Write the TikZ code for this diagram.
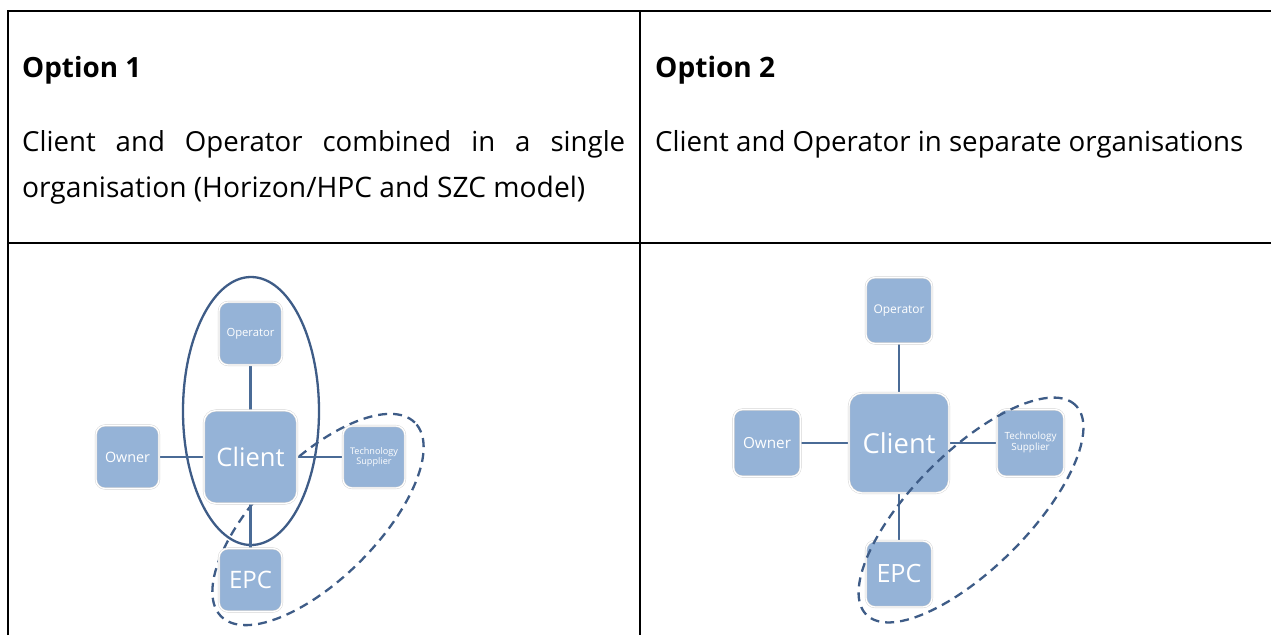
\documentclass[tikz,border=0pt]{standalone}
\usepackage{fontspec}
\usepackage{graphicx}
\setmainfont{Open Sans}
\usetikzlibrary{shapes.geometric,backgrounds}
\pgfdeclarelayer{bottom}
\pgfsetlayers{bottom,background,main}
\definecolor{boxfill}{HTML}{95B3D7}
\definecolor{linec}{HTML}{4A6B96}
\definecolor{ellc}{HTML}{3E5C87}
\newcommand{\fitw}[2]{\resizebox{#1}{!}{#2}}
\newcommand{\twoline}[3]{\resizebox{#1}{!}{\begin{tabular}{@{}c@{}}#2\\[-1pt]#3\end{tabular}}}
\tikzset{
  orgbox/.style={draw=black!18, double=white, double distance=1.3pt, line width=0.4pt,
    fill=boxfill, rounded corners=9pt, minimum width=#1, minimum height=#1,
    inner sep=0pt, text=white, align=center},
  conn/.style={draw=linec, line width=2.4pt},
  solidell/.style={draw=ellc, line width=2.3pt, ellipse, inner sep=0pt},
  dashell/.style={draw=ellc, line width=2.3pt, ellipse, inner sep=0pt, dash pattern=on 9pt off 6pt},
  tline/.style={draw=black, line width=2.8pt},
  hdr/.style={anchor=base west, inner sep=0pt, text=black}
}
\begin{document}
\begin{tikzpicture}[x=1pt,y=-1pt]
\useasboundingbox (0,0) rectangle (1271,635);
\begin{pgfonlayer}{bottom}
\fill[white] (0,0) rectangle (1271,635);
\end{pgfonlayer}
% table rules
\draw[tline] (8,635) -- (8,11) -- (1271,11);
\draw[tline] (640,11) -- (640,635);
\draw[tline] (8,243) -- (1271,243);
% headers
\node[hdr] (o1) at (22,77) {\fitw{119pt}{\bfseries Option 1}};
\node[hdr] (o1a) at (22,151) {{\fontsize{27.6pt}{30pt}\selectfont\makebox[603pt][s]{Client and Operator combined in a single}}};
\node[hdr] (o1b) at (22,197) {\fitw{563pt}{organisation (Horizon/HPC and SZC model)}};
\node[hdr] (o2) at (655,77) {\fitw{120pt}{\bfseries Option 2}};
\node[hdr] (o2a) at (655,151) {\fitw{588pt}{Client and Operator in separate organisations}};
% ---------- Option 1 ----------
\node[orgbox=63pt] (op1) at (250.5,333.5) {\fitw{48pt}{Operator}};
\node[orgbox=93pt, rounded corners=12pt] (cl1) at (250.5,457) {\fitw{68pt}{Client}};
\node[orgbox=63pt] (ow1) at (127.5,457) {\fitw{45pt}{Owner}};
\node[orgbox=62pt] (ts1) at (374,457) {\twoline{48pt}{Technology}{Supplier}};
\node[orgbox=63pt] (epc1) at (250.5,580) {\fitw{43pt}{EPC}};
\begin{scope}[on background layer]
\node[solidell, minimum width=136pt, minimum height=268pt] (e1) at (251,411) {};
\node[dashell, minimum width=274pt, minimum height=119pt, rotate=45] (d1) at (318,519.5) {};
\draw[conn] (ow1) -- (cl1);
\draw[conn] (cl1) -- (ts1);
\draw[conn] (op1) -- (cl1);
\draw[conn] (cl1) -- (epc1);
\end{scope}
% ---------- Option 2 ----------
\node[orgbox=66pt] (op2) at (899,310.5) {\fitw{51pt}{Operator}};
\node[orgbox=100pt, rounded corners=13pt] (cl2) at (899,443) {\fitw{73pt}{Client}};
\node[orgbox=67pt] (ow2) at (767,443) {\fitw{48pt}{Owner}};
\node[orgbox=67pt] (ts2) at (1030.5,443) {\twoline{52pt}{Technology}{Supplier}};
\node[orgbox=66pt] (epc2) at (899,574) {\fitw{45pt}{EPC}};
\begin{scope}[on background layer]
\draw[conn] (ow2) -- (cl2);
\draw[conn] (cl2) -- (ts2);
\draw[conn] (op2) -- (cl2);
\draw[conn] (cl2) -- (epc2);
\end{scope}
\node[dashell, minimum width=296pt, minimum height=116pt, rotate=45] (d2) at (971,510) {};
\end{tikzpicture}
\end{document}
